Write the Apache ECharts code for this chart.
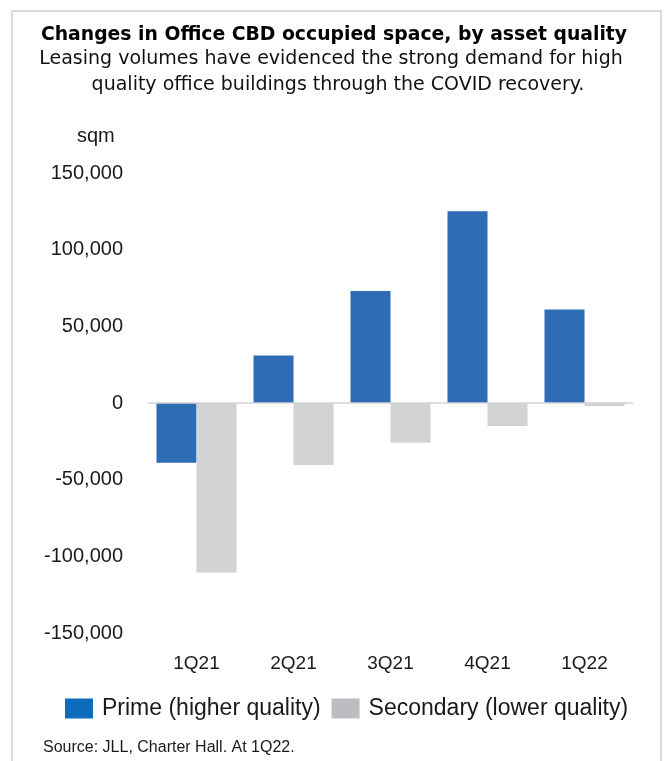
<!DOCTYPE html>
<html>
<head>
<meta charset="utf-8">
<script src="https://cdn.jsdelivr.net/npm/echarts@6/dist/echarts.min.js"></script>
<style>
html,body{margin:0;padding:0;background:#fff;}
#c{width:664px;height:761px;}
</style>
</head>
<body>
<div id="c"></div>
<script>
var categories = ['1Q21', '2Q21', '3Q21', '4Q21', '1Q22'];
var primeValues = [-39000, 31000, 73000, 125000, 61000];
var secondaryValues = [-110500, -40500, -26000, -15000, -2000];
var seriesNames = ['Prime (higher quality)', 'Secondary (lower quality)'];
var yTicks = { min: -150000, max: 150000, interval: 50000 };
var titleText = 'Changes in Office CBD occupied space, by asset quality';
var subtitleLines = ['Leasing volumes have evidenced the strong demand for high', 'quality office buildings through the COVID recovery.'];
var sourceText = 'Source: JLL, Charter Hall. At 1Q22.';
var unitText = 'sqm';

var chart = echarts.init(document.getElementById('c'), null, { renderer: 'canvas' });
var labelFont = 'Liberation Sans, Arial, Helvetica, sans-serif';
var vFont = 'DejaVu Sans, Verdana, sans-serif';
chart.setOption({
  backgroundColor: '#ffffff',
  animation: false,
  graphic: [
    { type: 'rect', silent: true, shape: { x: 12, y: 11, width: 649, height: 800 },
      style: { fill: 'none', stroke: '#dadada', lineWidth: 2 } },
    { type: 'text', x: 334, y: 35, style: { text: titleText, font: 'bold 18.8px ' + vFont, fill: '#000', align: 'center', verticalAlign: 'middle' } },
    { type: 'text', x: 331, y: 59, style: { text: subtitleLines[0], font: '19px ' + vFont, fill: '#111', align: 'center', verticalAlign: 'middle' } },
    { type: 'text', x: 338, y: 85, style: { text: subtitleLines[1], font: '19px ' + vFont, fill: '#111', align: 'center', verticalAlign: 'middle' } },
    { type: 'text', x: 77, y: 136, style: { text: unitText, font: '20px ' + labelFont, fill: '#1a1a1a', verticalAlign: 'middle' } },
    { type: 'text', x: 43, y: 748, style: { text: sourceText, font: '16px ' + labelFont, fill: '#1a1a1a', verticalAlign: 'middle' } }
  ],
  legend: {
    left: 65, top: 697, padding: 0,
    itemWidth: 28, itemHeight: 20, itemGap: 11,
    icon: 'rect',
    textStyle: { fontFamily: labelFont, fontSize: 23, color: '#1a1a1a', padding: [0, 0, 0, 4] },
    data: [
      { name: seriesNames[0], itemStyle: { color: '#0f6cbd' } },
      { name: seriesNames[1], itemStyle: { color: '#bcbdc0' } }
    ]
  },
  grid: { left: 148, right: 31, top: 173, bottom: 128, containLabel: false },
  xAxis: {
    type: 'category',
    data: categories,
    axisLine: { show: false },
    axisTick: { show: false },
    axisLabel: { margin: 21, fontFamily: labelFont, fontSize: 19, color: '#1a1a1a' }
  },
  yAxis: {
    type: 'value',
    min: yTicks.min, max: yTicks.max, interval: yTicks.interval,
    splitLine: { show: false },
    axisLine: { show: false },
    axisTick: { show: false },
    axisLabel: {
      margin: 25, fontFamily: labelFont, fontSize: 20, color: '#1a1a1a',
      formatter: function (v) { return v.toLocaleString('en-US'); }
    }
  },
  series: [{
    name: seriesNames[0],
    type: 'bar',
    data: primeValues,
    barWidth: 40,
    barGap: '0%',
    itemStyle: { color: '#2e6db5' },
    markLine: {
      silent: true, symbol: 'none', label: { show: false },
      lineStyle: { color: '#d3d3d3', width: 1.5, type: 'solid' },
      data: [{ yAxis: 0 }]
    }
  }, {
    name: seriesNames[1],
    type: 'bar',
    data: secondaryValues,
    barWidth: 40,
    barGap: '0%',
    itemStyle: { color: '#d1d2d4' }
  }]
});
</script>
</body>
</html>
